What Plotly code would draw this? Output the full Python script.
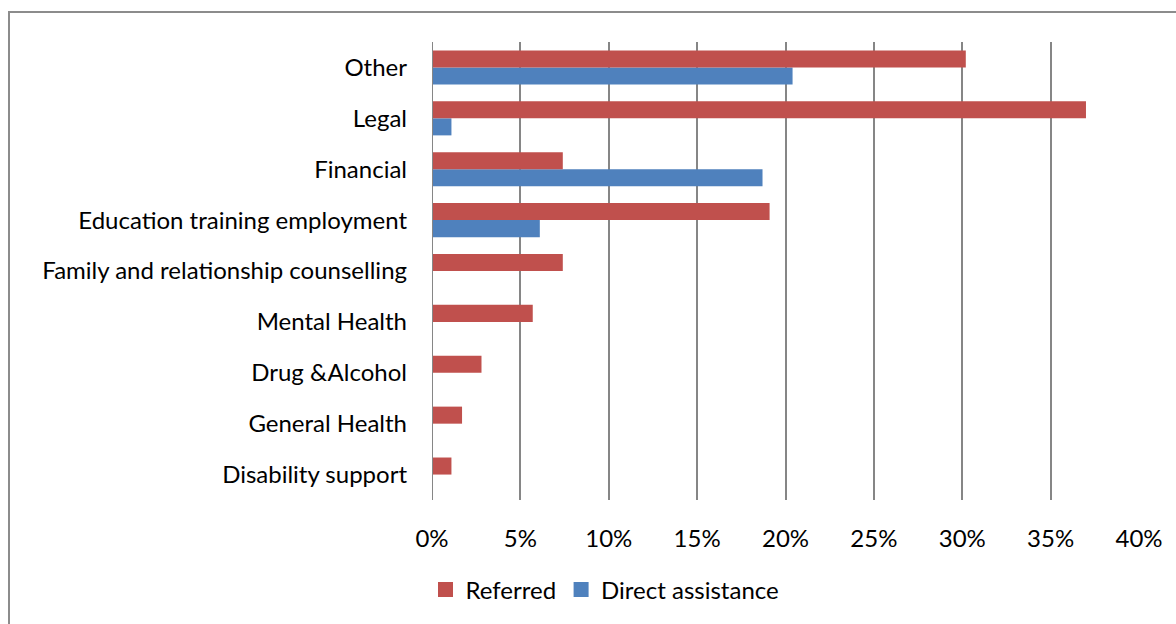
import plotly.graph_objects as go

categories = ["Disability support", "General Health", "Drug &Alcohol", "Mental Health",
              "Family and relationship counselling", "Education training employment",
              "Financial", "Legal", "Other"]
referred = [1.1, 1.7, 2.8, 5.7, 7.4, 19.1, 7.4, 37.0, 30.2]
direct = [0, 0, 0, 0, 0, 6.1, 18.7, 1.1, 20.4]
x_ticks = [0, 5, 10, 15, 20, 25, 30, 35, 40]
x_labels = [f"{v}%" for v in x_ticks]

FONT = "Lato, Carlito, Calibri, sans-serif"
RED, BLUE = "#C0504D", "#4F81BD"

fig = go.Figure()
fig.add_trace(go.Bar(y=categories, x=direct, name="Direct assistance", orientation="h",
                     marker=dict(color=BLUE, line=dict(width=0)), showlegend=False))
fig.add_trace(go.Bar(y=categories, x=referred, name="Referred", orientation="h",
                     marker=dict(color=RED, line=dict(width=0)), showlegend=False))
# legend entries with larger square symbols
fig.add_trace(go.Scatter(x=[None], y=[None], mode="markers", name="Referred",
                         marker=dict(symbol="square", size=15, color=RED)))
fig.add_trace(go.Scatter(x=[None], y=[None], mode="markers", name="Direct assistance",
                         marker=dict(symbol="square", size=15, color=BLUE)))

L, R, T, B = 432, 37, 42, 124
W, H = 1176, 624
pw, ph = W - L - R, H - T - B

fig.update_layout(
    width=W, height=H,
    margin=dict(l=L, r=R, t=T, b=B),
    barmode="group", bargap=0.33, bargroupgap=0,
    plot_bgcolor="white", paper_bgcolor="white",
    font=dict(family=FONT, size=24, color="#000000"),
    showlegend=True,
    legend=dict(orientation="h", x=(605 - L) / pw, xanchor="center",
                y=(ph - (590 - T)) / ph, yanchor="middle",
                font=dict(family=FONT, size=24), itemsizing="trace"),
    xaxis=dict(range=[0, 40], tickvals=x_ticks, ticktext=x_labels,
               showgrid=True, gridcolor="#868686", gridwidth=2,
               zeroline=False, showline=False, ticks="", ticklabelstandoff=22),
    yaxis=dict(type="category", categoryorder="array", categoryarray=categories,
               showgrid=False, zeroline=False, ticks="", showline=False,
               ticklabelstandoff=24, range=[-0.5, 8.5]),
    shapes=[dict(type="rect", xref="paper", yref="paper",
                 x0=(9 - L) / pw, x1=(W + 20 - L) / pw,
                 y0=(ph - (H + 20 - T)) / ph, y1=(ph - (12 - T)) / ph,
                 line=dict(color="#8C8C8C", width=2), fillcolor="rgba(0,0,0,0)", layer="below"),
            dict(type="line", xref="x", yref="paper", x0=0, x1=0, y0=0, y1=1,
                 line=dict(color="#868686", width=2))],
)

fig.write_html("out.html")
